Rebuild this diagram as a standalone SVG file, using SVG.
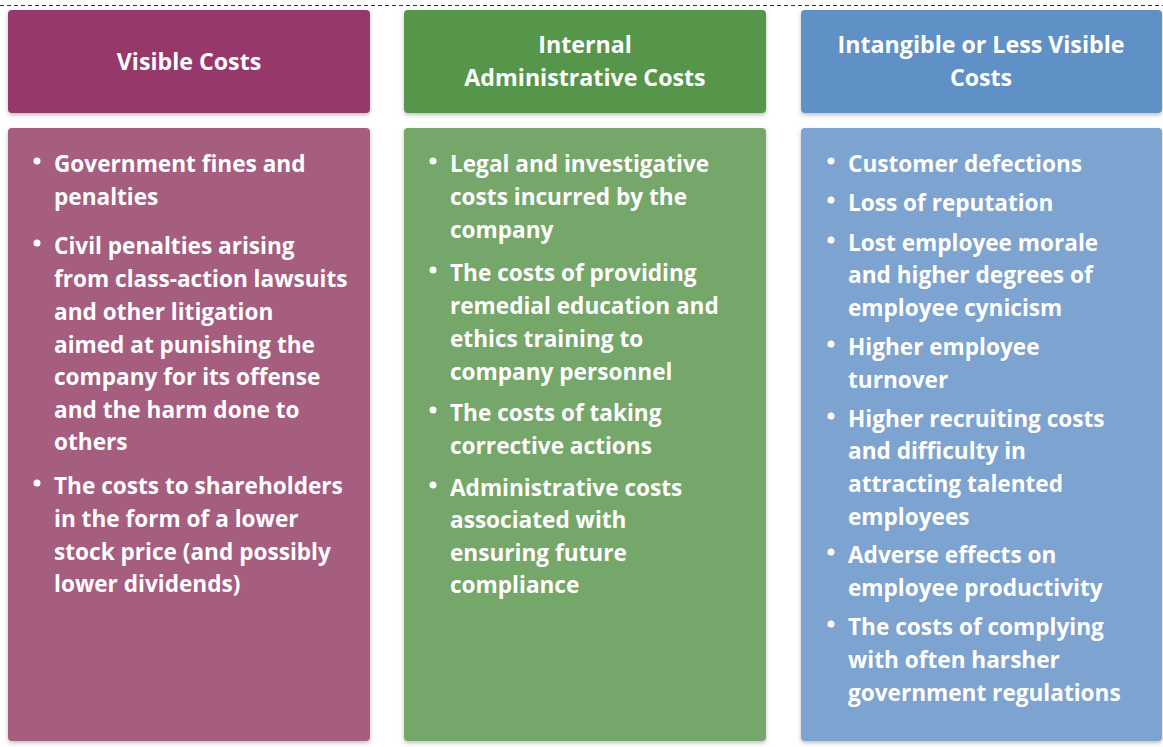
<svg xmlns="http://www.w3.org/2000/svg" width="1163" height="747" viewBox="0 0 1163 747">
<defs>
<filter id="sh" x="-5%" y="-5%" width="110%" height="115%"><feDropShadow dx="0" dy="2" stdDeviation="2" flood-color="#000" flood-opacity="0.25"/></filter>
<style>
.t{font-family:"Open Sans","Liberation Sans",sans-serif;font-weight:700;font-size:22.6px;fill:#fff}
.h{text-anchor:middle;font-size:23.2px}
.b{fill:#fff}
</style>
</defs>
<rect width="1163" height="747" fill="#fff"/>
<line x1="0" y1="5.5" x2="1163" y2="5.5" stroke="#333" stroke-width="1" stroke-dasharray="4,3"/>
<g id="col1">
<rect x="8" y="10" width="362" height="103" rx="4" fill="#96386A" filter="url(#sh)"/>
<text class="t h" x="189" y="70">Visible Costs</text>
<rect x="8" y="128" width="362" height="613" rx="4" fill="#A55D80" filter="url(#sh)"/>
<circle class="b" cx="37" cy="161" r="3.5"/><circle class="b" cx="37" cy="243" r="3.5"/><circle class="b" cx="37" cy="483" r="3.5"/>
<text class="t" x="54"><tspan x="54" y="172">Government fines and</tspan><tspan x="54" y="205">penalties</tspan><tspan x="54" y="254">Civil penalties arising</tspan><tspan x="54" y="287">from class-action lawsuits</tspan><tspan x="54" y="320">and other litigation</tspan><tspan x="54" y="353">aimed at punishing the</tspan><tspan x="54" y="385">company for its offense</tspan><tspan x="54" y="418">and the harm done to</tspan><tspan x="54" y="450">others</tspan><tspan x="54" y="494">The costs to shareholders</tspan><tspan x="54" y="527">in the form of a lower</tspan><tspan x="54" y="560">stock price (and possibly</tspan><tspan x="54" y="592">lower dividends)</tspan></text>
</g>
<g id="col2">
<rect x="404" y="10" width="362" height="103" rx="4" fill="#56964C" filter="url(#sh)"/>
<text class="t h" x="585"><tspan x="585" y="53">Internal</tspan><tspan x="585" y="86">Administrative Costs</tspan></text>
<rect x="404" y="128" width="362" height="613" rx="4" fill="#74A66B" filter="url(#sh)"/>
<circle class="b" cx="433" cy="161" r="3.5"/><circle class="b" cx="433" cy="270" r="3.5"/><circle class="b" cx="433" cy="410" r="3.5"/><circle class="b" cx="433" cy="485" r="3.5"/>
<text class="t" x="450"><tspan x="450" y="172">Legal and investigative</tspan><tspan x="450" y="205">costs incurred by the</tspan><tspan x="450" y="238">company</tspan><tspan x="450" y="281">The costs of providing</tspan><tspan x="450" y="314">remedial education and</tspan><tspan x="450" y="347">ethics training to</tspan><tspan x="450" y="380">company personnel</tspan><tspan x="450" y="421">The costs of taking</tspan><tspan x="450" y="454">corrective actions</tspan><tspan x="450" y="496">Administrative costs</tspan><tspan x="450" y="528">associated with</tspan><tspan x="450" y="561">ensuring future</tspan><tspan x="450" y="593">compliance</tspan></text>
</g>
<g id="col3">
<rect x="801" y="10" width="361" height="103" rx="4" fill="#5F91C6" filter="url(#sh)"/>
<text class="t h" x="981"><tspan x="981" y="53">Intangible or Less Visible</tspan><tspan x="981" y="86">Costs</tspan></text>
<rect x="801" y="128" width="361" height="613" rx="4" fill="#7DA3D1" filter="url(#sh)"/>
<circle class="b" cx="831" cy="161" r="3.5"/><circle class="b" cx="831" cy="200" r="3.5"/><circle class="b" cx="831" cy="240" r="3.5"/><circle class="b" cx="831" cy="344" r="3.5"/><circle class="b" cx="831" cy="416" r="3.5"/><circle class="b" cx="831" cy="552" r="3.5"/><circle class="b" cx="831" cy="624" r="3.5"/>
<text class="t" x="848"><tspan x="848" y="172">Customer defections</tspan><tspan x="848" y="211">Loss of reputation</tspan><tspan x="848" y="251">Lost employee morale</tspan><tspan x="848" y="283">and higher degrees of</tspan><tspan x="848" y="316">employee cynicism</tspan><tspan x="848" y="355">Higher employee</tspan><tspan x="848" y="388">turnover</tspan><tspan x="848" y="427">Higher recruiting costs</tspan><tspan x="848" y="459">and difficulty in</tspan><tspan x="848" y="492">attracting talented</tspan><tspan x="848" y="525">employees</tspan><tspan x="848" y="563">Adverse effects on</tspan><tspan x="848" y="596">employee productivity</tspan><tspan x="848" y="635">The costs of complying</tspan><tspan x="848" y="668">with often harsher</tspan><tspan x="848" y="701">government regulations</tspan></text>
</g>
</svg>
